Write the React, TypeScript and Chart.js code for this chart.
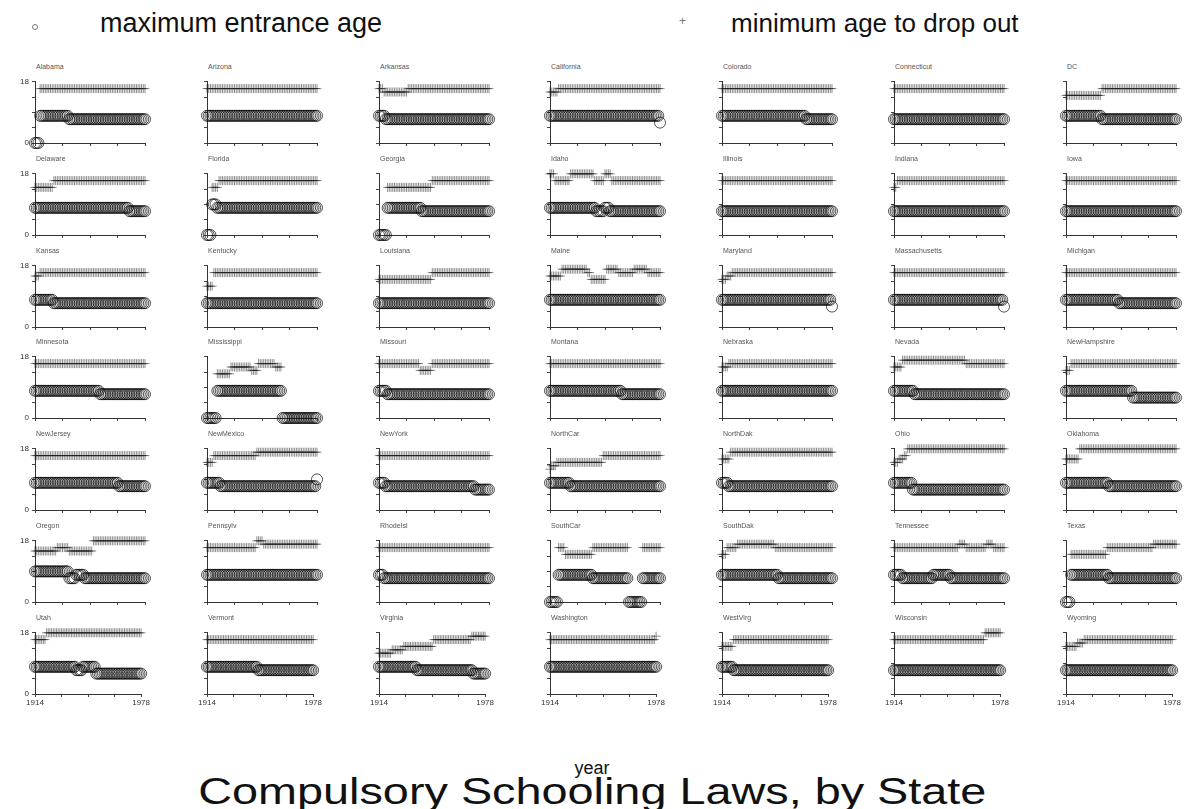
import React, { useEffect, useRef } from 'react';
import { Chart, registerables } from 'chart.js';

Chart.register(...registerables);

// ---------- data ----------
const states: string[] = [
  'Alabama', 'Arizona', 'Arkansas', 'California', 'Colorado', 'Connecticut', 'DC',
  'Delaware', 'Florida', 'Georgia', 'Idaho', 'Illinois', 'Indiana', 'Iowa',
  'Kansas', 'Kentucky', 'Louisiana', 'Maine', 'Maryland', 'Massachusetts', 'Michigan',
  'Minnesota', 'Mississippi', 'Missouri', 'Montana', 'Nebraska', 'Nevada', 'NewHampshire',
  'NewJersey', 'NewMexico', 'NewYork', 'NorthCar', 'NorthDak', 'Ohio', 'Oklahoma',
  'Oregon', 'Pennsylv', 'RhodeIsl', 'SouthCar', 'SouthDak', 'Tennessee', 'Texas',
  'Utah', 'Vermont', 'Virginia', 'Washington', 'WestVirg', 'Wisconsin', 'Wyoming',
];

// step changes: [first year, age]; null = no law / not shown
type Step = [number, number | null];

const entranceSteps: Step[][] = [
  [[1914, 0], [1917, 8], [1934, 7]],
  [[1914, 8]],
  [[1914, 8], [1918, 7]],
  [[1914, 8], [1978, 6]],
  [[1914, 8], [1963, 7]],
  [[1914, 7]],
  [[1914, 8], [1935, 7]],
  [[1914, 8], [1969, 7]],
  [[1914, 0], [1917, 9], [1920, 8]],
  [[1914, 0], [1919, 8], [1939, 7]],
  [[1914, 8], [1941, 7], [1946, 8], [1949, 7]],
  [[1914, 7]],
  [[1914, 7]],
  [[1914, 7]],
  [[1914, 8], [1925, 7]],
  [[1914, 7]],
  [[1914, 7]],
  [[1914, 8]],
  [[1914, 8], [1978, 6]],
  [[1914, 8], [1978, 6]],
  [[1914, 8], [1945, 7]],
  [[1914, 8], [1952, 7]],
  [[1914, 0], [1920, 8], [1958, 0]],
  [[1914, 8], [1919, 7]],
  [[1914, 8], [1956, 7]],
  [[1914, 8]],
  [[1914, 8], [1926, 7]],
  [[1914, 8], [1953, 6]],
  [[1914, 8], [1963, 7]],
  [[1914, 8], [1922, 7], [1978, 9]],
  [[1914, 8], [1918, 7], [1970, 6]],
  [[1914, 8], [1926, 7]],
  [[1914, 8], [1918, 7]],
  [[1914, 8], [1925, 6]],
  [[1914, 8], [1939, 7]],
  [[1914, 9], [1934, 7], [1938, 8], [1943, 7]],
  [[1914, 8]],
  [[1914, 8], [1917, 7]],
  [[1914, 0], [1919, 8], [1939, 7], [1960, 0], [1968, 7]],
  [[1914, 8], [1947, 7]],
  [[1914, 8], [1919, 7], [1937, 8], [1947, 7]],
  [[1914, 0], [1917, 8], [1939, 7]],
  [[1914, 8], [1939, 7], [1943, 8], [1951, 6]],
  [[1914, 8], [1945, 7]],
  [[1914, 8], [1937, 7], [1971, 6]],
  [[1914, 8]],
  [[1914, 8], [1921, 7]],
  [[1914, 7]],
  [[1914, 7]],
];

const dropoutSteps: Step[][] = [
  [[1914, null], [1917, 16]],
  [[1914, 16]],
  [[1914, 16], [1917, 15], [1931, 16]],
  [[1914, 15], [1919, 16]],
  [[1914, 16]],
  [[1914, 16]],
  [[1914, 14], [1935, 16]],
  [[1914, 14], [1925, 16]],
  [[1914, null], [1917, 14], [1921, 16]],
  [[1914, null], [1919, 14], [1945, 16]],
  [[1914, 18], [1917, 16], [1926, 18], [1940, 16], [1946, 18], [1950, 16]],
  [[1914, 16]],
  [[1914, 14], [1916, 16]],
  [[1914, 16]],
  [[1914, 15], [1917, 16]],
  [[1914, 12], [1918, 16]],
  [[1914, 14], [1945, 16]],
  [[1914, 15], [1921, 17], [1936, 16], [1938, 14], [1947, 17], [1954, 16], [1963, 17], [1971, 16]],
  [[1914, 14], [1917, 15], [1920, 16]],
  [[1914, 16]],
  [[1914, 16]],
  [[1914, 16]],
  [[1914, null], [1920, 13], [1928, 15], [1940, 14], [1944, 16], [1954, 15], [1958, null]],
  [[1914, 16], [1938, 14], [1945, 16]],
  [[1914, 16]],
  [[1914, 15], [1918, 16]],
  [[1914, 15], [1919, 17], [1956, 16]],
  [[1914, 14], [1917, 16]],
  [[1914, 16]],
  [[1914, 14], [1918, 16], [1943, 17]],
  [[1914, 16]],
  [[1914, 12], [1915, 13], [1918, 14], [1945, 16]],
  [[1914, 15], [1919, 17]],
  [[1914, 14], [1917, 15], [1920, 16], [1922, 18]],
  [[1914, 15], [1922, 18]],
  [[1914, 15], [1927, 16], [1934, 15], [1948, 18]],
  [[1914, 16], [1943, 18], [1947, 17]],
  [[1914, 16]],
  [[1914, null], [1919, 16], [1923, 14], [1939, 16], [1960, null], [1968, 16]],
  [[1914, 14], [1917, 16], [1923, 17], [1945, 16]],
  [[1914, 16], [1952, 17], [1956, 16], [1968, 17], [1972, 16]],
  [[1914, null], [1917, 14], [1938, 16], [1965, 17]],
  [[1914, 16], [1921, 18]],
  [[1914, 16]],
  [[1914, 12], [1922, 13], [1929, 14], [1947, 16], [1970, 17]],
  [[1914, 16], [1978, 17]],
  [[1914, 14], [1921, 16]],
  [[1914, 16], [1969, 18]],
  [[1914, 14], [1921, 15], [1925, 16]],
];

const firstYear = 1914;
const lastYear = 1978;
const xTickYears = [1914, 1930, 1946, 1962, 1978];
const xTickLabels = ['1914', '', '', '', '1978'];
const yTickValues = [0, 4.5, 9, 13.5, 18];
const yTickLabels = ['0', '', '', '', '18'];
const legendLabels = ['maximum entrance age', 'minimum age to drop out'];
const xAxisTitle = 'year';
const chartTitle = 'Compulsory Schooling Laws, by State';

// ---------- layout ----------
const FONT = '"Liberation Sans", Arial, Helvetica, sans-serif';
const COLS = 7;
const AXIS_X0 = 35;
const COL_PITCH = 171.8;
const TOP_Y0 = 80;
const ROW_PITCH = 91.8;
const PLOT_W = 110;
const PLOT_H = 63;
const PAD_L = 30;
const PAD_T = 6;
const PAD_R = 6;
const PAD_B = 16;

function expandSteps(steps: Step[]) {
  const pts: { x: number; y: number }[] = [];
  for (let yr = firstYear; yr <= lastYear; yr++) {
    let v: number | null = null;
    for (const [start, val] of steps) if (yr >= start) v = val;
    if (v !== null) pts.push({ x: yr, y: v });
  }
  return pts;
}

function Panel({ idx }: { idx: number }) {
  const ref = useRef<HTMLCanvasElement>(null);
  const col = idx % COLS;
  const row = Math.floor(idx / COLS);
  const axisX = Math.round(AXIS_X0 + col * COL_PITCH);
  const topY = Math.round(TOP_Y0 + row * ROW_PITCH);
  const W = PAD_L + PLOT_W + PAD_R;
  const H = PAD_T + PLOT_H + PAD_B;

  useEffect(() => {
    if (!ref.current) return;
    const chart = new Chart(ref.current, {
      type: 'scatter',
      data: {
        datasets: [
          {
            label: legendLabels[0],
            data: expandSteps(entranceSteps[idx]),
            pointStyle: 'circle',
            pointRadius: 5.5,
            borderWidth: 1,
            borderColor: 'rgba(10,10,10,0.7)',
            backgroundColor: 'rgba(0,0,0,0)',
            clip: false as any,
          },
          {
            label: legendLabels[1],
            data: expandSteps(dropoutSteps[idx]),
            pointStyle: 'cross',
            pointRadius: 4.5,
            borderWidth: 1,
            borderColor: 'rgba(30,30,30,0.5)',
            backgroundColor: 'rgba(0,0,0,0)',
            clip: false as any,
          },
        ],
      },
      options: {
        animation: false,
        responsive: false,
        devicePixelRatio: 1,
        events: [],
        layout: { padding: { top: PAD_T, right: PAD_R, left: 0, bottom: 0 }, autoPadding: false },
        plugins: { legend: { display: false }, tooltip: { enabled: false }, title: { display: false } },
        scales: {
          x: {
            type: 'linear',
            min: firstYear,
            max: lastYear,
            afterFit: (s: any) => { s.height = PAD_B; },
            afterBuildTicks: (s: any) => { s.ticks = xTickYears.map((v) => ({ value: v })); },
            grid: { drawOnChartArea: false, tickLength: 3, color: '#444' },
            border: { color: '#333', width: 1 },
            ticks: {
              autoSkip: false,
              maxRotation: 0,
              minRotation: 0,
              padding: 1,
              font: { size: 8, family: FONT },
              color: '#333',
              callback: (v: any) => {
                if (row !== 6) return '';
                const i = xTickYears.indexOf(Number(v));
                return i >= 0 ? xTickLabels[i] : '';
              },
            },
          },
          y: {
            type: 'linear',
            min: 0,
            max: 18,
            afterFit: (s: any) => { s.width = PAD_L; },
            afterBuildTicks: (s: any) => { s.ticks = yTickValues.map((v) => ({ value: v })); },
            grid: { drawOnChartArea: false, tickLength: 3, color: '#444' },
            border: { color: '#333', width: 1 },
            ticks: {
              autoSkip: false,
              padding: 3,
              font: { size: 8, family: FONT },
              color: '#333',
              callback: (v: any) => {
                if (col !== 0) return '';
                const i = yTickValues.indexOf(Number(v));
                return i >= 0 ? yTickLabels[i] : '';
              },
            },
          },
        },
      },
    } as any);
    return () => chart.destroy();
  }, [idx]);

  return (
    <>
      <div
        style={{
          position: 'absolute',
          left: axisX + 1,
          top: topY - 17,
          fontSize: 7,
          lineHeight: '8px',
          color: '#555',
          fontFamily: FONT,
          whiteSpace: 'nowrap',
        }}
      >
        {states[idx]}
      </div>
      <canvas
        ref={ref}
        width={W}
        height={H}
        style={{ position: 'absolute', left: axisX - PAD_L, top: topY - PAD_T, width: W, height: H }}
      />
    </>
  );
}

export default function App() {
  return (
    <div
      style={{
        position: 'absolute',
        left: 0,
        top: 0,
        width: 1184,
        height: 809,
        overflow: 'hidden',
        background: '#fff',
        fontFamily: FONT,
        color: '#111',
      }}
    >
      {/* legend */}
      <div
        style={{
          position: 'absolute', left: 32, top: 24, width: 6, height: 6,
          borderRadius: '50%', border: '1px solid #777', boxSizing: 'border-box',
        }}
      />
      <div style={{ position: 'absolute', left: 100, top: 10, fontSize: 27, lineHeight: '27px', whiteSpace: 'nowrap' }}>
        {legendLabels[0]}
      </div>
      <div style={{ position: 'absolute', left: 679, top: 15, fontSize: 12, lineHeight: '12px', color: '#777' }}>+</div>
      <div style={{ position: 'absolute', left: 731, top: 10, fontSize: 26, lineHeight: '26px', whiteSpace: 'nowrap' }}>
        {legendLabels[1]}
      </div>

      {states.map((_, i) => (
        <Panel key={i} idx={i} />
      ))}

      {/* axis title and chart title */}
      <div style={{ position: 'absolute', left: 0, width: 1184, top: 759, textAlign: 'center', fontSize: 18, lineHeight: '18px' }}>
        {xAxisTitle}
      </div>
      <div
        style={{
          position: 'absolute', left: 0, width: 1184, top: 774, textAlign: 'center',
          fontSize: 36, lineHeight: '36px', whiteSpace: 'nowrap',
          transform: 'scaleX(1.3)', transformOrigin: '591px 0',
        }}
      >
        {chartTitle}
      </div>
    </div>
  );
}
